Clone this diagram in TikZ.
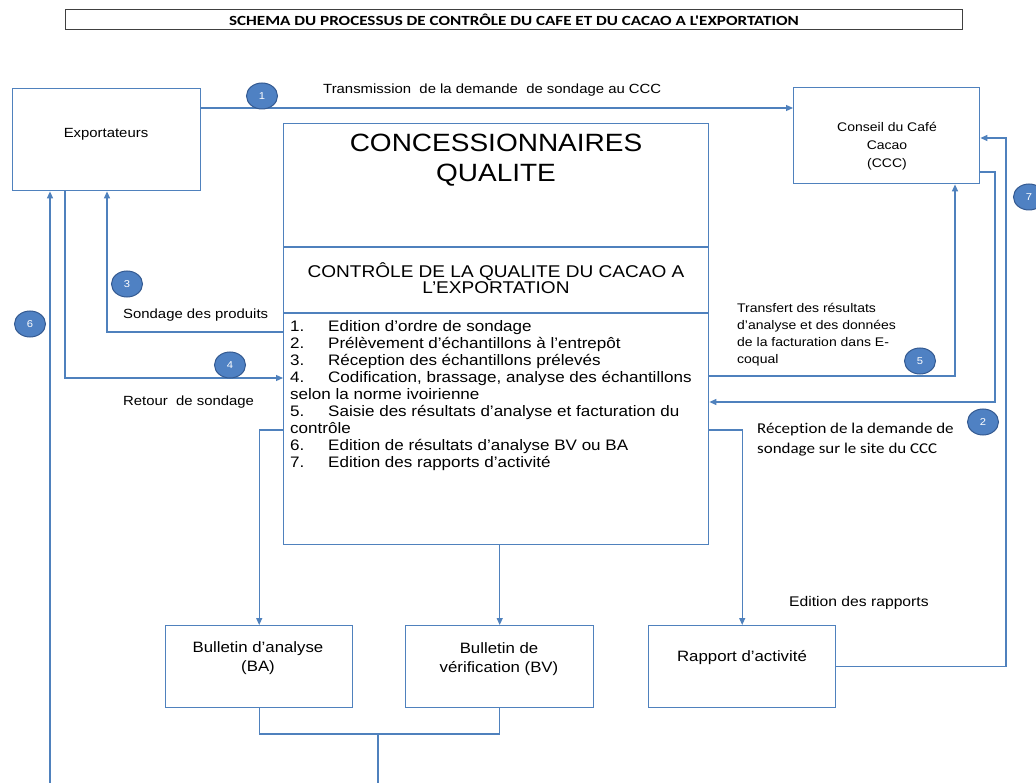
\documentclass[tikz,border=0pt]{standalone}
\usepackage{fontspec}
\setmainfont{Liberation Sans}[FakeStretch=1.12]
\newfontfamily\carl{Carlito}[FakeStretch=1.13,Ligatures=NoCommon]
\newfontfamily\carlT{Carlito}[FakeStretch=1.22,Ligatures=NoCommon]
\usetikzlibrary{arrows.meta,shapes.geometric}
\definecolor{lb}{RGB}{79,129,189}
\definecolor{nfill}{RGB}{79,129,195}
\definecolor{nedge}{RGB}{52,90,145}
\tikzset{
 box/.style={draw=lb, line width=1.4pt, rectangle, inner sep=0pt, anchor=north west},
 conn/.style={draw=lb, line width=1.2pt},
 arr/.style={conn, -{Triangle[length=7pt,width=6pt]}},
 num/.style={ellipse, fill=nfill, draw=nedge, line width=1pt, minimum width=31pt, minimum height=26pt, inner sep=0pt, text=white, font=\fontsize{10}{11}\selectfont},
 lbl/.style={inner sep=0pt, font=\fontsize{13.3}{15}\selectfont},
}
\begin{document}
\begin{tikzpicture}[x=1pt,y=-1pt]
\useasboundingbox[fill=white] (0,0) rectangle (1036,783);
% title
\node[draw=black!75, line width=1pt, minimum width=897pt, minimum height=20pt, inner sep=0pt, anchor=north west] (title) at (65,9)
 {\carlT\bfseries\fontsize{14}{15}\selectfont SCHEMA DU PROCESSUS DE CONTRÔLE DU CAFE ET DU CACAO A L'EXPORTATION};
% boxes
\node[box, minimum width=188pt, minimum height=102pt] (exp) at (12,88) {};
\node[lbl] (expT) at (106,134) {Exportateurs};
\node[box, minimum width=186pt, minimum height=96pt] (ccc) at (793,87) {};
\node[lbl, align=center, font=\fontsize{12.5}{18}\selectfont] (cccT) at (887,146) {Conseil du Café\\Cacao\\(CCC)};
\node[box, minimum width=425pt, minimum height=421pt] (big) at (283,123) {};
\coordinate (d1) at (283,247);
\coordinate (d2) at (283,313);
\draw[conn] (d1) -- (d1 -| big.east);
\draw[conn] (d2) -- (d2 -| big.east);
\node[lbl, align=center, font=\fontsize{25}{30}\selectfont] (concT) at (496,160) {CONCESSIONNAIRES\\QUALITE};
\node[lbl, align=center, font=\fontsize{17}{16.5}\selectfont] (ctrlT) at (496,278) {CONTRÔLE DE LA QUALITE DU CACAO A\\L'EXPORTATION};
\node[lbl, align=left, anchor=west, font=\fontsize{15.2}{17}\selectfont] (listT) at (290,396) {%
\makebox[38pt][l]{1.}Edition d'ordre de sondage\\
\makebox[38pt][l]{2.}Prélèvement d'échantillons à l'entrepôt\\
\makebox[38pt][l]{3.}Réception des échantillons prélevés\\
\makebox[38pt][l]{4.}Codification, brassage, analyse des échantillons\\
selon la norme ivoirienne\\
\makebox[38pt][l]{5.}Saisie des résultats d'analyse et facturation du\\
contrôle\\
\makebox[38pt][l]{6.}Edition de résultats d'analyse BV ou BA\\
\makebox[38pt][l]{7.}Edition des rapports d'activité};
\node[box, minimum width=187pt, minimum height=82pt] (ba) at (165,625) {};
\node[lbl, align=center, font=\fontsize{15}{19}\selectfont] (baT) at (258,658) {Bulletin d'analyse\\(BA)};
\node[box, minimum width=188pt, minimum height=82pt] (bv) at (405,625) {};
\node[lbl, align=center, font=\fontsize{15}{19}\selectfont] (bvT) at (499,659) {Bulletin de\\vérification (BV)};
\node[box, minimum width=187pt, minimum height=82pt] (rap) at (648,625) {};
\node[lbl, font=\fontsize{15}{17}\selectfont] (rapT) at (742,658) {Rapport d'activité};
% connectors
\draw[arr] (exp.east |- 0,108) -- (ccc.west |- 0,108);
\draw[arr] (ccc.east |- 0,172) -- (995,172) -- (995,402) -- (big.east |- 0,402);
\draw[arr] (big.west |- 0,332) -| (exp.south -| 107,0);
\draw[arr] (exp.south -| 65,0) |- (big.west |- 0,378);
\draw[arr] (big.east |- 0,376) -| (ccc.south -| 955,0);
\coordinate (c6) at (50,783);
\draw[arr] (c6) -- (exp.south -| 50,0);
\draw[arr] (rap.east) -| (1006,138) -- (ccc.east |- 0,138);
\draw[arr] (big.west |- 0,430) -| (ba.north);
\draw[arr] (big.south -| bv.north) -- (bv.north);
\draw[arr] (big.east |- 0,430) -| (rap.north);
\coordinate (j) at (378,734);
\coordinate (jb) at (378,783);
\draw[conn] (ba.south) |- (j) -| (bv.south);
\draw[conn] (j) -- (jb);
% labels
\node[lbl, anchor=west] (l1) at (323,90) {Transmission\ \ de la demande\ \ de sondage au CCC};
\node[lbl, anchor=west] (l3) at (123,315) {Sondage des produits};
\node[lbl, anchor=west] (l4) at (123,402) {Retour\ \ de sondage};
\node[lbl, anchor=west, align=left, font=\fontsize{12.5}{17}\selectfont] (l5) at (737,335) {Transfert des résultats\\d'analyse et des données\\de la facturation dans E-\\coqual};
\node[lbl, anchor=west, align=left, font=\carl\fontsize{15}{20}\selectfont] (l2) at (757,440) {Réception de la demande de\\sondage sur le site du CCC};
\node[lbl, anchor=west, font=\fontsize{14}{16}\selectfont] (l7) at (789,603) {Edition des rapports};
% numbers
\node[num] (n1) at (262,96) {1};
\node[num] (n2) at (983,422) {2};
\node[num] (n3) at (127,284) {3};
\node[num] (n4) at (230,365) {4};
\node[num] (n5) at (920,361) {5};
\node[num] (n6) at (30,324) {6};
\node[num] (n7) at (1029,197) {7};
\end{tikzpicture}
\end{document}
